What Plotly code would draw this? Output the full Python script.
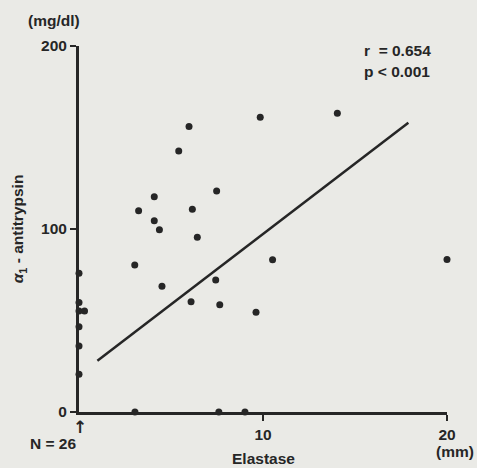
import plotly.graph_objects as go

# Data
elastase = [9.85, 5.98, 5.42, 7.48, 4.09, 3.24, 6.16, 4.09, 4.37, 6.43, 3.03, 10.52,
            4.51, 7.43, 6.09, 7.65, 9.62, 14.04, 20.0,
            0, 0, 0, 0.3, 0, 0, 0,
            3.04, 7.6, 9.02]
antitrypsin = [161, 156, 142.6, 120.8, 117.6, 110, 110.8, 104.5, 99.6, 95.5, 80.3, 83.2,
               68.7, 72.1, 60.3, 58.6, 54.5, 163.2, 83.4,
               75.8, 59.9, 55.2, 55.2, 46.6, 36, 20.6,
               0, 0, 0]
reg_x = [1.0, 17.9]
reg_y = [28.0, 158.0]
y_ticks = [0, 100, 200]
x_ticks = [10, 20]

ink = "#262626"
bg = "#eaeae6"
font = "Liberation Sans"
fs = 15.5

fig = go.Figure()
fig.add_trace(go.Scatter(x=reg_x, y=reg_y, mode="lines",
                         line=dict(color=ink, width=2.5), hoverinfo="skip"))
fig.add_trace(go.Scatter(x=elastase, y=antitrypsin, mode="markers",
                         marker=dict(color=ink, size=7), cliponaxis=False))

fig.update_layout(
    width=477, height=468,
    margin=dict(l=79, r=30, t=46, b=56),
    paper_bgcolor=bg, plot_bgcolor=bg,
    showlegend=False,
    font=dict(family=font, color=ink, size=fs),
    xaxis=dict(range=[0, 20], tickvals=x_ticks, ticktext=[str(v) for v in x_ticks],
               showgrid=False, zeroline=False, showline=True, linewidth=3, linecolor=ink,
               ticks="outside", ticklen=6, tickwidth=1.5, tickcolor=ink,
               tickfont=dict(size=fs, family=font, color=ink, weight="bold")),
    yaxis=dict(range=[0, 200], tickvals=y_ticks, ticktext=[str(v) for v in y_ticks],
               showgrid=False, zeroline=False, showline=True, linewidth=3, linecolor=ink,
               ticks="outside", ticklen=6, tickwidth=1.5, tickcolor=ink,
               tickfont=dict(size=fs, family=font, color=ink, weight="bold")),
)

ann = dict(xref="paper", yref="paper", showarrow=False,
           font=dict(family=font, size=fs, color=ink))
fig.add_annotation(text="<b>(mg/dl)</b>", x=-0.145, y=1.0, yshift=26,
                   xanchor="left", yanchor="middle", **ann)
fig.add_annotation(text="<b>(mm)</b>", x=1.0, y=0, yshift=-39, xshift=8,
                   xanchor="center", yanchor="middle", **ann)
fig.add_annotation(text="<b>Elastase</b>", x=0.5, y=0, yshift=-46,
                   xanchor="center", yanchor="middle", **ann)
fig.add_annotation(text="<b>N = 26</b>", x=0, y=0, yshift=-31, xshift=-26,
                   xanchor="center", yanchor="middle", **ann)
fig.add_annotation(text="<b>↑</b>", x=0, y=0, yshift=-15, xshift=1,
                   xanchor="center", yanchor="middle", xref="paper", yref="paper",
                   showarrow=False, font=dict(family="DejaVu Sans", size=17, color=ink))
fig.add_annotation(text="<i>α</i><sub>1</sub> - antitrypsin", x=-0.165, y=0.5,
                   textangle=-90, xanchor="center", yanchor="middle",
                   xref="paper", yref="paper", showarrow=False,
                   font=dict(family=font, size=fs, color=ink, weight="bold"))
fig.add_annotation(text="<b>r  = 0.654</b>", x=0.769, y=0.989,
                   xanchor="left", yanchor="middle", **ann)
fig.add_annotation(text="<b>p &lt; 0.001</b>", x=0.769, y=0.929,
                   xanchor="left", yanchor="middle", **ann)

fig.write_html("out.html")
